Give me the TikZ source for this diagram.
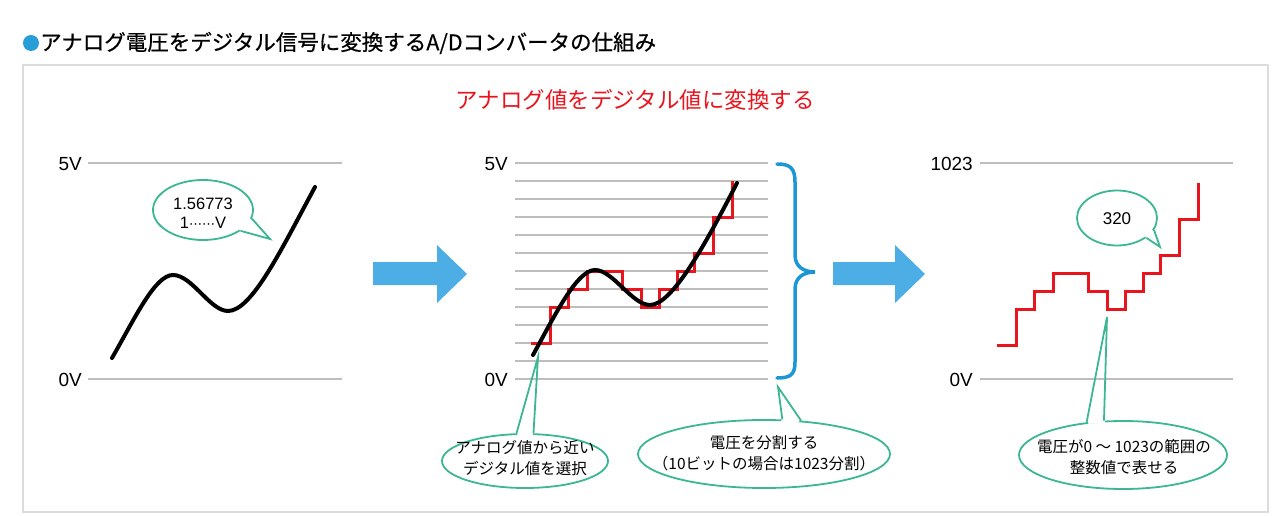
\documentclass[tikz,border=0pt]{standalone}
\usepackage{fontspec}
\setmainfont{Liberation Sans}
\newfontfamily\jp{Noto Sans CJK JP}
\newfontfamily\jpt{Noto Sans CJK JP}[FakeBold=0.6]
\newfontfamily\dv{DejaVu Sans}
\usetikzlibrary{calc,shapes.geometric}
\definecolor{teal1}{RGB}{60,182,148}
\definecolor{arrowblue}{RGB}{77,174,229}
\definecolor{dotblue}{RGB}{40,158,216}
\definecolor{braceblue}{RGB}{28,150,213}
\definecolor{redline}{RGB}{232,20,30}
\definecolor{gridgray}{RGB}{190,190,190}
\definecolor{framegray}{RGB}{220,220,220}
\newcommand\mytail[4]{%
  \fill[white] ($(#1.#2)!3pt!(#4)$) -- ($(#1.#3)!3pt!(#4)$) -- ($(#1.#3)!2.5pt!(#1.center)$) -- ($(#1.#2)!2.5pt!(#1.center)$) -- cycle;
  \draw[tail] (#1.#2) -- (#4) -- (#1.#3);}
\newcommand\stairs{(531,343) -- (550,343) -- (550,307) -- (568,307) -- (568,289) -- (587,289) -- (587,271) -- (622,271) -- (622,289) -- (641,289) -- (641,307) -- (659,307) -- (659,289) -- (677,289) -- (677,271) -- (694,271) -- (694,253) -- (713,253) -- (713,217) -- (732,217) -- (732,181)}
\begin{document}
\begin{tikzpicture}[x=1pt,y=-1pt,
  grid/.style={draw=gridgray, line width=1.3},
  axlabel/.style={anchor=east, font=\fontsize{19}{20}\selectfont, inner sep=0},
  bub/.style={ellipse, draw=teal1, fill=white, line width=1.8, inner sep=0},
  bubtext/.style={font=\jp\fontsize{15.5}{21}\selectfont, align=center, inner sep=0},
  numtext/.style={font=\fontsize{16.5}{19}\selectfont, align=center, inner sep=0},
  tail/.style={draw=teal1, line width=1.8},
  stair/.style={draw=redline, line width=3, line join=miter},
  wave/.style={draw=black, line width=4, line cap=round},
  bigarrow/.style={fill=arrowblue}]
\useasboundingbox (0,0) rectangle (1280,516);
% title
\node[circle, fill=dotblue, minimum size=16, inner sep=0] (dot) at (31,43) {};
\node[anchor=west, inner sep=0, font=\jpt\fontsize{21.5}{24}\selectfont] (title) at (40,43) {アナログ電圧をデジタル信号に変換するA/Dコンバータの仕組み};
% frame
\draw[framegray, line width=2] (23,65) rectangle (1268,512);
\node[font=\jp\fontsize{22.5}{24}\selectfont, text=redline, inner sep=0] (sub) at (635,100) {アナログ値をデジタル値に変換する};
% left panel
\draw[grid] (88,163) -- (342,163);
\draw[grid] (88,379) -- (342,379);
\node[axlabel] (l5) at (82,164) {5V};
\node[axlabel] (l0) at (82,380) {0V};
\draw[wave] (112,358) .. controls (135,318) and (155,275) .. (173,275) .. controls (192,275) and (210,311) .. (228,311) .. controls (252,311) and (282,248) .. (315,187);
\node[bub, minimum width=100, minimum height=60] (b1) at (203,210) {};
\coordinate (t1) at (270,239);
\mytail{b1}{-10}{-29}{t1}
\node[numtext] (b1t) at (203,213) {1.56773\\1{\dv\fontsize{13}{19}\selectfont ⋯⋯}V};
% arrows
\fill[bigarrow] (373,262) -- (437,262) -- (437,245) -- (467,274) -- (437,303) -- (437,285) -- (373,285) -- cycle;
\fill[bigarrow] (833,262) -- (895,262) -- (895,245) -- (925,274) -- (895,303) -- (895,285) -- (833,285) -- cycle;
% middle panel
\foreach \i in {0,...,12} \draw[grid] (515,{163+18*\i}) -- (768,{163+18*\i});
\node[axlabel] (m5) at (508,164) {5V};
\node[axlabel] (m0) at (508,380) {0V};
\draw[stair] \stairs;
\draw[wave] (533,355) .. controls (555,315) and (577,270) .. (595,270) .. controls (613,270) and (632,305) .. (650,305) .. controls (672,305) and (705,245) .. (737,183);
\draw[braceblue, line width=3.5, line cap=round] (777,164) .. controls (790,164) and (795,168) .. (795,182) -- (795,255) .. controls (795,266) and (803,272) .. (815,272) .. controls (803,272) and (795,278) .. (795,289) -- (795,362) .. controls (795,375) and (790,378) .. (777,378);
% right panel
\draw[grid] (980,163) -- (1233,163);
\draw[grid] (980,379) -- (1233,379);
\node[axlabel] (r5) at (973,164) {1023};
\node[axlabel] (r0) at (973,380) {0V};
\draw[stair, shift={(466,2)}] \stairs;
\node[bub, minimum width=80, minimum height=55] (b2) at (1117,218) {};
\coordinate (t2) at (1160,247);
\mytail{b2}{-18}{-34}{t2}
\node[font=\fontsize{17}{20}\selectfont, inner sep=0] (b2t) at (1117,219) {320};
% bottom callouts
\node[bub, minimum width=166, minimum height=54] (c1) at (525,461) {};
\coordinate (t3) at (538,357);
\mytail{c1}{107}{73}{t3}
\node[bubtext] (c1t) at (525,458) {アナログ値から近い\\デジタル値を選択};
\node[bub, minimum width=252, minimum height=68] (c2) at (764,454) {};
\coordinate (t4) at (778,387);
\mytail{c2}{62}{42}{t4}
\node[bubtext] (c2t) at (764,453) {電圧を分割する\\（10ビットの場合は1023分割）};
\node[bub, minimum width=208, minimum height=68] (c3) at (1123,455) {};
\coordinate (t5) at (1107,317);
\mytail{c3}{138}{119}{t5}
\node[bubtext] (c3t) at (1124,457) {電圧が0 ～ 1023の範囲の\\整数値で表せる};
\end{tikzpicture}
\end{document}
